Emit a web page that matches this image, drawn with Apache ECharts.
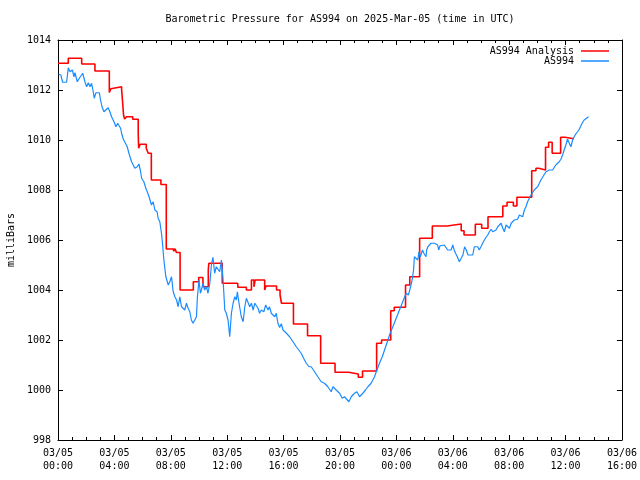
<!DOCTYPE html>
<html>
<head>
<meta charset="utf-8">
<script src="https://cdn.jsdelivr.net/npm/echarts@6/dist/echarts.min.js"></script>
<style>html,body{margin:0;padding:0;background:#fff;}#c{width:640px;height:480px;}</style>
</head>
<body>
<div id="c"></div>
<script>
// Hours since 2025-03-05 00:00 UTC
var xTickHours = [0, 4, 8, 12, 16, 20, 24, 28, 32, 36, 40];
var yTicks = [998, 1000, 1002, 1004, 1006, 1008, 1010, 1012, 1014];

var analysisHours = [0, 0.73, 1.68, 2.62, 3.64, 3.75, 3.82, 4.51, 4.58, 4.65, 4.72, 4.86, 5.3, 5.69, 5.72, 5.83, 6.26, 6.4, 6.62, 7.3, 7.68, 8.2, 8.3, 8.4, 8.66, 9.6, 9.98, 10.28, 10.66, 10.7, 11.65, 12.75, 13.36, 13.72, 13.9, 13.98, 14.66, 14.75, 15.5, 15.75, 15.85, 16.7, 17.7, 18.63, 19.65, 20.62, 21.3, 21.6, 22.6, 22.95, 23.6, 23.85, 24.65, 24.95, 25.65, 26.55, 27.6, 28.6, 28.8, 29.6, 30.05, 30.5, 31.55, 31.85, 32.3, 32.55, 33.6, 33.9, 34.1, 34.58, 34.8, 35.05, 35.65, 35.95, 36.6];
var analysisValues = [1013.07, 1013.27, 1013.04, 1012.76, 1011.9, 1012.05, 1012.13, 1012.03, 1011.53, 1011.0, 1010.84, 1010.93, 1010.83, 1010.27, 1009.67, 1009.83, 1009.67, 1009.47, 1008.4, 1008.22, 1005.64, 1005.55, 1005.65, 1005.5, 1004.0, 1004.33, 1004.5, 1004.13, 1004.8, 1005.07, 1004.27, 1004.11, 1004.0, 1004.4, 1004.13, 1004.4, 1004.0, 1004.16, 1004.0, 1003.8, 1003.47, 1002.64, 1002.17, 1001.07, 1000.71, 1000.64, 1000.51, 1000.76, 1001.87, 1002.0, 1003.17, 1003.31, 1004.2, 1004.53, 1006.07, 1006.56, 1006.64, 1006.37, 1006.2, 1006.63, 1006.47, 1006.93, 1007.36, 1007.51, 1007.36, 1007.71, 1008.77, 1008.87, 1008.8, 1009.71, 1009.91, 1009.47, 1010.11, 1010.05, 1010.05];

var stationHours = [0.05, 0.2, 0.33, 0.61, 0.73, 0.85, 0.97, 1.02, 1.13, 1.2, 1.37, 1.51, 1.75, 1.91, 2.03, 2.15, 2.27, 2.38, 2.5, 2.57, 2.69, 2.93, 3.02, 3.12, 3.26, 3.4, 3.56, 3.68, 3.8, 3.92, 3.97, 4.11, 4.23, 4.32, 4.44, 4.51, 4.63, 4.75, 4.91, 5.03, 5.22, 5.34, 5.45, 5.62, 5.74, 5.86, 5.93, 6.09, 6.23, 6.33, 6.46, 6.63, 6.75, 6.87, 7.03, 7.1, 7.22, 7.34, 7.41, 7.51, 7.65, 7.74, 7.82, 7.93, 8.05, 8.17, 8.29, 8.41, 8.52, 8.64, 8.76, 8.88, 8.99, 9.11, 9.23, 9.35, 9.46, 9.58, 9.7, 9.82, 9.89, 10.0, 10.1, 10.17, 10.29, 10.4, 10.53, 10.64, 10.77, 10.88, 10.99, 11.11, 11.23, 11.35, 11.47, 11.59, 11.71, 11.83, 11.94, 12.06, 12.18, 12.3, 12.42, 12.54, 12.65, 12.72, 12.84, 13.0, 13.13, 13.25, 13.36, 13.48, 13.6, 13.72, 13.84, 13.96, 14.07, 14.19, 14.3, 14.42, 14.6, 14.73, 14.9, 15.0, 15.13, 15.25, 15.37, 15.48, 15.6, 15.72, 15.84, 15.96, 16.2, 16.43, 16.67, 16.9, 17.08, 17.25, 17.42, 17.61, 17.8, 17.96, 18.2, 18.43, 18.67, 18.9, 19.14, 19.38, 19.5, 19.73, 19.97, 20.16, 20.32, 20.44, 20.63, 20.8, 21.03, 21.2, 21.39, 21.62, 21.81, 21.98, 22.21, 22.45, 22.62, 22.8, 23.0, 23.24, 23.4, 23.56, 23.8, 24.03, 24.27, 24.5, 24.69, 24.85, 24.95, 25.12, 25.22, 25.28, 25.4, 25.52, 25.6, 25.7, 25.85, 25.95, 26.1, 26.15, 26.23, 26.35, 26.46, 26.58, 26.7, 26.82, 26.93, 27.0, 27.1, 27.24, 27.4, 27.52, 27.64, 27.76, 27.88, 28.0, 28.1, 28.2, 28.32, 28.47, 28.6, 28.72, 28.84, 28.96, 29.08, 29.25, 29.42, 29.53, 29.65, 29.77, 29.88, 30.0, 30.12, 30.24, 30.36, 30.48, 30.6, 30.72, 30.84, 30.96, 31.07, 31.19, 31.31, 31.43, 31.55, 31.66, 31.78, 31.9, 32.02, 32.14, 32.25, 32.37, 32.49, 32.6, 32.72, 32.84, 32.96, 33.08, 33.19, 33.31, 33.43, 33.55, 33.67, 33.78, 33.9, 34.02, 34.14, 34.25, 34.37, 34.49, 34.61, 34.73, 34.84, 34.96, 35.08, 35.2, 35.31, 35.43, 35.55, 35.67, 35.79, 35.9, 36.02, 36.14, 36.26, 36.38, 36.5, 36.61, 36.73, 36.85, 36.97, 37.08, 37.2, 37.32, 37.44, 37.63];
var stationValues = [1012.63, 1012.6, 1012.31, 1012.31, 1012.89, 1012.73, 1012.67, 1012.8, 1012.53, 1012.69, 1012.33, 1012.47, 1012.67, 1012.33, 1012.13, 1012.29, 1012.13, 1012.27, 1011.93, 1011.67, 1011.89, 1011.89, 1011.6, 1011.33, 1011.13, 1011.2, 1011.29, 1011.13, 1010.93, 1010.87, 1010.73, 1010.53, 1010.67, 1010.73, 1010.47, 1010.27, 1010.04, 1010.0, 1009.73, 1009.47, 1009.13, 1009.07, 1008.87, 1008.93, 1009.04, 1008.73, 1008.47, 1008.33, 1008.07, 1007.93, 1007.73, 1007.4, 1007.53, 1007.2, 1007.13, 1006.87, 1006.73, 1006.27, 1005.87, 1005.2, 1004.53, 1004.6, 1004.2, 1004.33, 1004.53, 1003.93, 1003.73, 1003.6, 1003.33, 1003.73, 1003.33, 1003.4, 1003.2, 1003.47, 1003.27, 1003.13, 1002.8, 1002.67, 1002.6, 1002.93, 1003.73, 1004.4, 1003.87, 1004.0, 1004.27, 1004.0, 1004.13, 1003.87, 1004.27, 1005.0, 1005.31, 1004.67, 1004.93, 1005.0, 1004.73, 1005.2, 1004.4, 1003.2, 1003.07, 1002.8, 1002.13, 1003.07, 1003.47, 1003.73, 1003.6, 1003.93, 1003.47, 1002.93, 1002.73, 1003.33, 1003.67, 1003.73, 1003.33, 1003.47, 1003.2, 1003.47, 1003.53, 1003.27, 1003.07, 1003.2, 1003.13, 1003.4, 1003.2, 1003.33, 1003.07, 1003.13, 1002.93, 1003.07, 1002.67, 1002.5, 1002.65, 1002.4, 1002.27, 1002.13, 1001.93, 1001.73, 1001.6, 1001.47, 1001.27, 1001.07, 1000.93, 1000.93, 1000.73, 1000.53, 1000.33, 1000.27, 1000.13, 999.93, 1000.13, 1000.0, 999.87, 999.67, 999.73, 999.8, 999.53, 999.73, 999.87, 999.93, 999.73, 999.87, 1000.0, 1000.13, 1000.27, 1000.53, 1000.8, 1001.07, 1001.33, 1001.73, 1002.0, 1002.27, 1002.6, 1002.93, 1003.27, 1003.6, 1003.87, 1003.8, 1004.0, 1004.4, 1004.8, 1005.33, 1005.36, 1005.2, 1005.53, 1005.33, 1005.6, 1005.47, 1005.33, 1005.6, 1005.73, 1005.8, 1005.87, 1005.93, 1005.87, 1005.89, 1005.8, 1005.6, 1005.77, 1005.73, 1005.8, 1005.73, 1005.6, 1005.67, 1005.6, 1005.8, 1005.6, 1005.47, 1005.33, 1005.13, 1005.27, 1005.4, 1005.73, 1005.6, 1005.4, 1005.4, 1005.4, 1005.73, 1005.67, 1005.73, 1005.6, 1005.73, 1005.87, 1006.0, 1006.11, 1006.2, 1006.33, 1006.43, 1006.33, 1006.27, 1006.4, 1006.53, 1006.6, 1006.67, 1006.47, 1006.33, 1006.6, 1006.67, 1006.47, 1006.67, 1006.73, 1006.8, 1006.87, 1006.83, 1007.0, 1006.93, 1006.93, 1007.2, 1007.33, 1007.53, 1007.67, 1007.8, 1007.87, 1008.0, 1007.93, 1008.13, 1008.27, 1008.4, 1008.51, 1008.53, 1008.73, 1008.77, 1008.8, 1008.87, 1008.8, 1008.87, 1009.0, 1009.07, 1009.13, 1009.23, 1009.4, 1009.6, 1009.8, 1010.03, 1010.0, 1009.73, 1010.0, 1010.13, 1010.24, 1010.33, 1010.43, 1010.56, 1010.69, 1010.8, 1010.87, 1010.93];

var titleText = 'Barometric Pressure for AS994 on 2025-Mar-05 (time in UTC)';
var yAxisTitle = 'milliBars';
var seriesNames = ['AS994 Analysis', 'AS994'];
var seriesColors = ['#ff0000', '#1a8cff'];

function zip(a, b) { var r = []; for (var i = 0; i < a.length; i++) r.push([a[i], b[i]]); return r; }
function pad(n) { return (n < 10 ? '0' : '') + n; }
function hourLabel(h) {
  var day = 5 + Math.floor(h / 24);
  var hr = Math.round(h % 24);
  return '03/' + pad(day) + '\n' + pad(hr) + ':00';
}

var FONT = 'DejaVu Sans Mono';
var chart = echarts.init(document.getElementById('c'), null, { renderer: 'canvas' });

var baseX = {
  type: 'value', min: xTickHours[0], max: xTickHours[xTickHours.length - 1], interval: 4,
  axisLine: { show: true, onZero: false, lineStyle: { color: '#000', width: 1 } },
  axisTick: { show: true, inside: true, length: 5, lineStyle: { color: '#000' } },
  minorTick: { show: true, splitNumber: 4, length: 3, lineStyle: { color: '#000' } },
  splitLine: { show: false }
};
var baseY = {
  type: 'value', min: yTicks[0], max: yTicks[yTicks.length - 1], interval: 2,
  axisLine: { show: true, onZero: false, lineStyle: { color: '#000', width: 1 } },
  axisTick: { show: true, inside: true, length: 5, lineStyle: { color: '#000' } },
  splitLine: { show: false }
};

function legendFor(i, top) {
  return { data: [{ name: seriesNames[i], icon: 'rect', itemStyle: { color: seriesColors[i] } }],
    right: 31, top: top, padding: 0, align: 'right', itemWidth: 28, itemHeight: 1.5, itemGap: 0,
    selectedMode: false, textStyle: { fontFamily: FONT, fontSize: 10, color: '#000', padding: [0, 2, 0, 0] } };
}

chart.setOption({
  animation: false,
  backgroundColor: '#fff',
  textStyle: { fontFamily: FONT },
  grid: { left: 58, right: 18, top: 40, bottom: 40, containLabel: false },
  graphic: [
    { type: 'text', x: 340, y: 19, style: { text: titleText, font: '10px ' + FONT, fill: '#000', align: 'center', verticalAlign: 'middle' } },
    { type: 'text', x: 11, y: 240, rotation: Math.PI / 2, style: { text: yAxisTitle, font: '10px ' + FONT, fill: '#000', align: 'center', verticalAlign: 'middle' } }
  ],
  legend: [legendFor(0, 46), legendFor(1, 56)],
  xAxis: [
    Object.assign({}, baseX, { position: 'bottom',
      axisLabel: { show: true, margin: 7, fontFamily: FONT, fontSize: 10, lineHeight: 13, color: '#000', formatter: hourLabel, showMinLabel: true, showMaxLabel: true } }),
    Object.assign({}, baseX, { position: 'top', axisLabel: { show: false } })
  ],
  yAxis: [
    Object.assign({}, baseY, { position: 'left',
      axisLabel: { show: true, margin: 7, fontFamily: FONT, fontSize: 10, color: '#000', formatter: function (v) { return String(v); } } }),
    Object.assign({}, baseY, { position: 'right', axisLabel: { show: false } })
  ],
  series: [
    { name: seriesNames[0], type: 'line', step: 'end', showSymbol: false, symbol: 'none', data: zip(analysisHours, analysisValues),
      lineStyle: { color: seriesColors[0], width: 1.6 }, itemStyle: { color: seriesColors[0] } },
    { name: seriesNames[1], type: 'line', showSymbol: false, symbol: 'none', data: zip(stationHours, stationValues),
      lineStyle: { color: seriesColors[1], width: 1.2 }, itemStyle: { color: seriesColors[1] } }
  ]
});
</script>
</body>
</html>
